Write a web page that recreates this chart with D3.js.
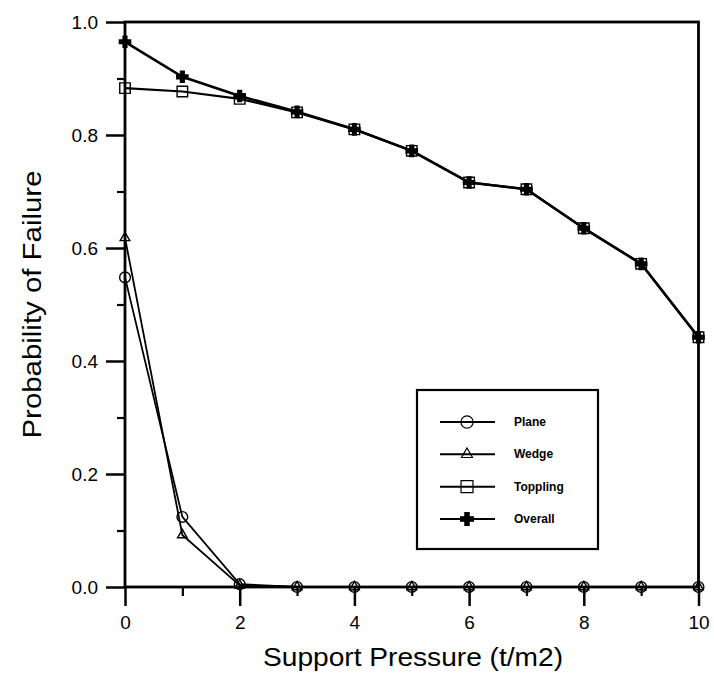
<!DOCTYPE html>
<html>
<head>
<meta charset="utf-8">
<script src="https://cdn.jsdelivr.net/npm/d3@7"></script>
<style>
  body { margin: 0; background: #fff; }
  text { font-family: "Liberation Sans", Arial, sans-serif; fill: #000; }
</style>
</head>
<body>
<div id="chart"></div>
<script>
// chart size and plot area
const width = 714;
const height = 687;
const margin = {left: 125, right: 15, top: 22, bottom: 100};

// data
const pressure = [0, 1, 2, 3, 4, 5, 6, 7, 8, 9, 10];
const plane    = [0.548, 0.124, 0.005, 0, 0, 0, 0, 0, 0, 0, 0];
const wedge    = [0.618, 0.092, 0.003, 0, 0, 0, 0, 0, 0, 0, 0];
const toppling = [0.883, 0.877, 0.864, 0.840, 0.810, 0.772, 0.716, 0.704, 0.635, 0.572, 0.442];
const overall  = [0.965, 0.903, 0.869, 0.841, 0.810, 0.772, 0.716, 0.704, 0.635, 0.572, 0.442];
const seriesNames = ["Plane", "Wedge", "Toppling", "Overall"];
const xTicks = [0, 2, 4, 6, 8, 10];
const yTicks = [0, 0.2, 0.4, 0.6, 0.8, 1.0];

const svg = d3.select("#chart")
  .append("svg")
  .attr("width", width)
  .attr("height", height);

const x = d3.scaleLinear().domain([0, 10]).range([margin.left, width - margin.right - 0.5]);
const y = d3.scaleLinear().domain([0, 1]).range([height - margin.bottom, margin.top]);

// minor ticks first (short ones)
svg.append("g")
  .attr("transform", `translate(0,${y(0)})`)
  .call(d3.axisBottom(x).tickValues(d3.range(1, 10, 2)).tickSize(9).tickFormat(""))
  .call(g => g.select(".domain").remove())
  .selectAll("line").attr("stroke-width", 2.2);

svg.append("g")
  .attr("transform", `translate(${x(0)},0)`)
  .call(d3.axisLeft(y).tickValues([0.1, 0.3, 0.5, 0.7, 0.9]).tickSize(8).tickFormat(""))
  .call(g => g.select(".domain").remove())
  .selectAll("line").attr("stroke-width", 2.2);

// major ticks with labels
const xAxis = svg.append("g")
  .attr("transform", `translate(0,${y(0)})`)
  .call(d3.axisBottom(x).tickValues(xTicks).tickSize(19).tickPadding(10).tickFormat(d3.format("d")));
xAxis.select(".domain").remove();
xAxis.selectAll("line").attr("stroke-width", 2.5);
xAxis.selectAll("text").attr("font-size", "19px").attr("font-family", "Liberation Sans, Arial, sans-serif");

const yAxis = svg.append("g")
  .attr("transform", `translate(${x(0)},0)`)
  .call(d3.axisLeft(y).tickValues(yTicks).tickSize(19).tickPadding(8).tickFormat(d3.format(".1f")));
yAxis.select(".domain").remove();
yAxis.selectAll("line").attr("stroke-width", 2.5);
yAxis.selectAll("text").attr("font-size", "19px").attr("font-family", "Liberation Sans, Arial, sans-serif");

// plot frame
svg.append("rect")
  .attr("x", x(0))
  .attr("y", y(1))
  .attr("width", x(10) - x(0))
  .attr("height", y(0) - y(1))
  .attr("fill", "none")
  .attr("stroke", "#000")
  .attr("stroke-width", 2.8);

// axis titles
svg.append("text")
  .attr("x", 413)
  .attr("y", 666)
  .attr("text-anchor", "middle")
  .attr("font-size", "25px")
  .attr("textLength", 300)
  .attr("lengthAdjust", "spacingAndGlyphs")
  .text("Support  Pressure (t/m2)");

svg.append("text")
  .attr("transform", `translate(41,${y(0.5)}) rotate(-90)`)
  .attr("text-anchor", "middle")
  .attr("font-size", "25px")
  .attr("textLength", 268)
  .attr("lengthAdjust", "spacingAndGlyphs")
  .text("Probability  of  Failure");

// lines and markers
const series = [
  {name: seriesNames[0], values: plane, width: 1.8, symbol: d3.symbolCircle, size: 90, fill: "none"},
  {name: seriesNames[1], values: wedge, width: 1.8, symbol: d3.symbolTriangle, size: 40, fill: "none"},
  {name: seriesNames[2], values: toppling, width: 2.2, symbol: d3.symbolSquare, size: 110, fill: "none"},
  {name: seriesNames[3], values: overall, width: 2.6, symbol: d3.symbolCross, size: 70, fill: "#000"}
];

const line = d3.line()
  .x((d, i) => x(pressure[i]))
  .y(d => y(d));

series.forEach(s => {
  svg.append("path")
    .datum(s.values)
    .attr("fill", "none")
    .attr("stroke", "#000")
    .attr("stroke-width", s.width)
    .attr("d", line);

  svg.selectAll(null)
    .data(s.values)
    .enter()
    .append("path")
      .attr("transform", (d, i) => `translate(${x(pressure[i])},${y(d)})`)
      .attr("d", d3.symbol().type(s.symbol).size(s.size))
      .attr("fill", s.fill === "none" ? "#fff" : s.fill)
      .attr("fill-opacity", s.fill === "none" ? 0 : 1)
      .attr("stroke", "#000")
      .attr("stroke-width", 1.4);
});

// legend
const legend = svg.append("g");
legend.append("rect")
  .attr("x", 417)
  .attr("y", 390)
  .attr("width", 181)
  .attr("height", 159)
  .attr("fill", "#fff")
  .attr("stroke", "#000")
  .attr("stroke-width", 2.2);

const legendY = d3.scalePoint().domain(seriesNames).range([422, 519]);

series.forEach(s => {
  const ly = legendY(s.name);
  legend.append("line")
    .attr("x1", 440).attr("x2", 495)
    .attr("y1", ly).attr("y2", ly)
    .attr("stroke", "#000")
    .attr("stroke-width", 2);
  legend.append("path")
    .attr("transform", `translate(467,${ly})`)
    .attr("d", d3.symbol().type(s.symbol).size(s.size * 1.3))
    .attr("fill", s.fill === "none" ? "#fff" : s.fill)
    .attr("fill-opacity", s.fill === "none" ? 0 : 1)
    .attr("stroke", "#000")
    .attr("stroke-width", 1.2);
  legend.append("text")
    .attr("x", 514)
    .attr("y", ly + 4)
    .attr("font-size", "12px")
    .attr("font-weight", "bold")
    .text(s.name);
});
</script>
</body>
</html>
